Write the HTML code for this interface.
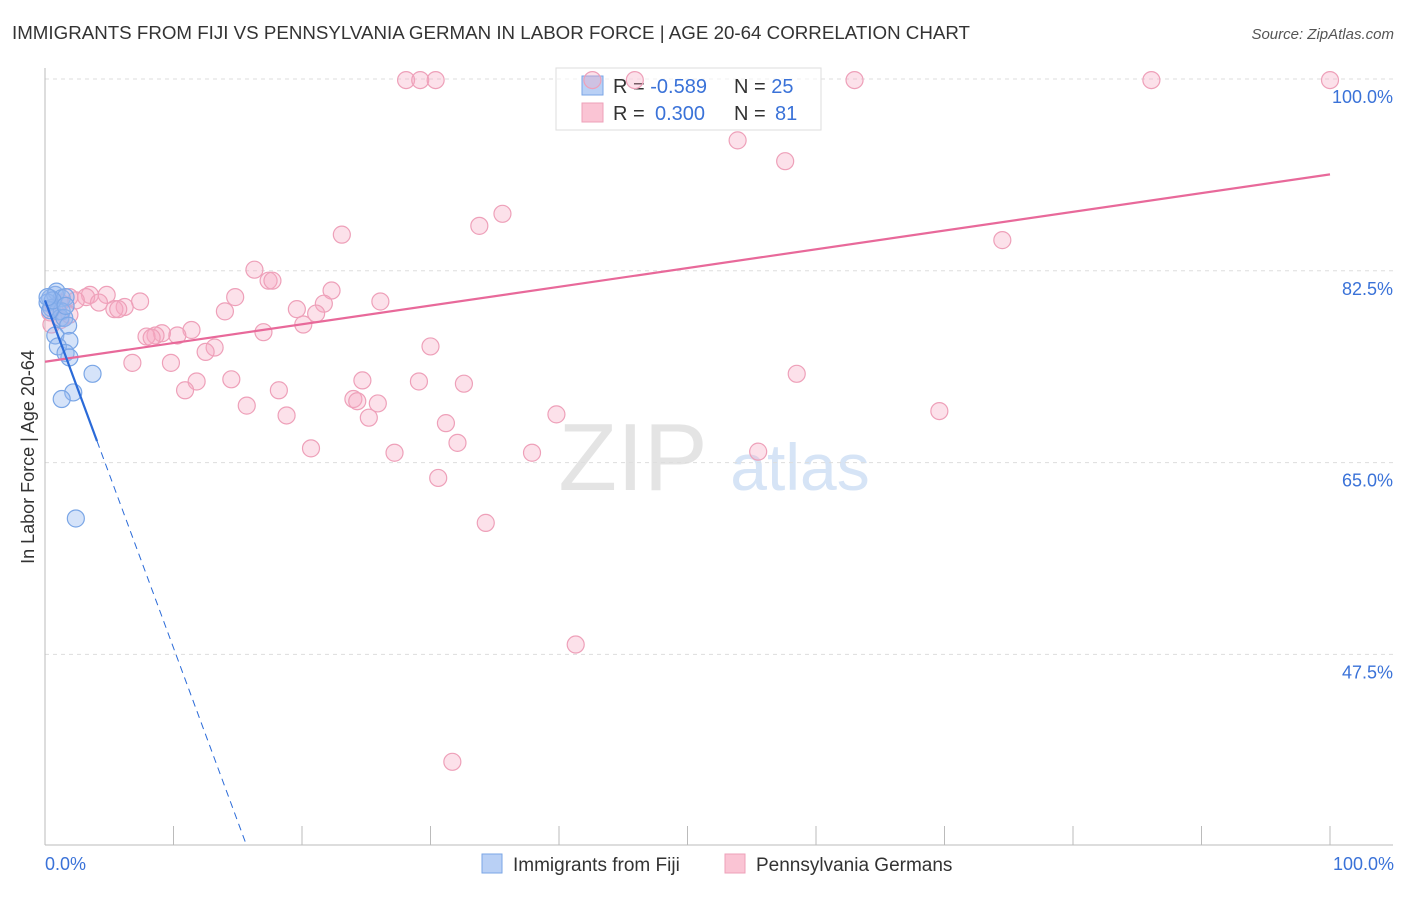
<!DOCTYPE html>
<html><head><meta charset="utf-8"><style>
body{margin:0;background:#fff;font-family:"Liberation Sans",sans-serif}
svg text{font-family:"Liberation Sans",sans-serif}
</style></head><body>
<svg id="chart" width="1406" height="892" viewBox="0 0 1406 892">
<text x="12" y="39" font-size="18" fill="#333" textLength="958" lengthAdjust="spacingAndGlyphs">IMMIGRANTS FROM FIJI VS PENNSYLVANIA GERMAN IN LABOR FORCE | AGE 20-64 CORRELATION CHART</text>
<text x="1394" y="39" font-size="15" fill="#555" font-style="italic" text-anchor="end">Source: ZipAtlas.com</text>
<text x="633" y="490" font-size="96" fill="#e4e4e4" font-family="Liberation Serif" text-anchor="middle">ZIP</text>
<text x="800" y="490" font-size="66" fill="#d6e4f6" text-anchor="middle">atlas</text>
<g id="grid"></g><g id="axes"></g>
<g>
<rect x="556" y="68" width="265" height="62" fill="#fff" fill-opacity="0.6" stroke="#ddd"/>
<rect x="582" y="76" width="21" height="19" fill="#b9d0f5" stroke="#7aa6e6"/>
<rect x="582" y="103" width="21" height="19" fill="#fac4d4" stroke="#eea0b9"/>
<text x="613" y="93" font-size="20" fill="#333">R = <tspan fill="#3a72d8">-0.589</tspan></text>
<text x="734" y="93" font-size="20" fill="#333">N = <tspan fill="#3a72d8">25</tspan></text>
<text x="613" y="120" font-size="20" fill="#333">R = <tspan fill="#3a72d8" x="655">0.300</tspan></text>
<text x="734" y="120" font-size="20" fill="#333">N = <tspan fill="#3a72d8" x="775">81</tspan></text>
</g>
<g id="marks"></g>
<text transform="translate(34,457) rotate(-90)" font-size="18" fill="#333" text-anchor="middle">In Labor Force | Age 20-64</text>
<text x="45" y="870" font-size="18" fill="#3a72d8">0.0%</text>
<text x="1394" y="870" font-size="18" fill="#3a72d8" text-anchor="end">100.0%</text>
<g>
<rect x="482" y="854" width="20" height="19" fill="#b9d0f5" stroke="#7aa6e6"/>
<text x="513" y="871" font-size="19" fill="#333">Immigrants from Fiji</text>
<rect x="725" y="854" width="20" height="19" fill="#fac4d4" stroke="#eea0b9"/>
<text x="756" y="871" font-size="19" fill="#333">Pennsylvania Germans</text>
</g>
</svg>
<script>
const yTicks=[100,82.5,65,47.5];
const yTickLabels=["100.0%","82.5%","65.0%","47.5%"];
const xTicks=[0,10,20,30,40,50,60,70,80,90,100];
const pinkX=[28.1,29.2,30.4,42.6,45.9,63.0,86.1,100,53.9,57.6,35.6,33.8,23.1,74.5,16.3,17.4,17.7,22.3,14.8,26.1,21.7,19.6,21.1,14.0,20.1,17.0,7.4,6.2,5.4,5.7,4.8,3.5,3.2,2.4,4.2,1.9,1.2,0.4,0.5,11.4,9.1,8.6,7.9,10.3,8.3,13.2,12.5,30.0,6.8,9.8,24.7,29.1,32.6,14.5,11.8,10.9,18.2,58.5,24.0,24.3,25.9,15.7,39.8,18.8,25.2,69.6,31.2,32.1,20.7,27.2,37.9,55.5,30.6,34.3,41.3,31.7,1.9,1.2,0.7];
const pinkY=[99.9,99.9,99.9,99.9,99.9,99.9,99.9,99.9,94.4,92.5,87.7,86.6,85.8,85.3,82.6,81.6,81.6,80.7,80.1,79.7,79.5,79.0,78.6,78.8,77.6,76.9,79.7,79.2,79.0,79.0,80.3,80.3,80.1,79.8,79.6,80.1,79.6,78.7,77.6,77.1,76.8,76.6,76.5,76.6,76.4,75.5,75.1,75.6,74.1,74.1,72.5,72.4,72.2,72.6,72.4,71.6,71.6,73.1,70.8,70.6,70.4,70.2,69.4,69.3,69.1,69.7,68.6,66.8,66.3,65.9,65.9,66.0,63.6,59.5,48.4,37.7,78.5,78.0,79.2];
const blueX=[0.4,0.8,0.9,1.3,1.6,0.2,0.5,1.0,1.3,1.2,1.5,1.8,0.8,1.9,1.0,1.6,1.9,3.7,2.2,1.3,2.4,0.4,0.6,0.2,1.6];
const blueY=[80.0,80.3,80.6,80.0,80.1,79.6,79.1,78.8,78.8,78.2,78.2,77.5,76.6,76.1,75.6,75.0,74.6,73.1,71.4,70.8,59.9,78.9,79.8,80.1,79.3];
const pinkTrend=[74.2,91.3];
const blueTrend=[79.8,-3.17];
const X=v=>45+v*12.85, Y=v=>79+(100-v)*10.96;
const NS="http://www.w3.org/2000/svg";
function mk(p,t,a){const e=document.createElementNS(NS,t);for(const k in a)e.setAttribute(k,a[k]);p.appendChild(e);return e;}
const grid=document.getElementById('grid'),axes=document.getElementById('axes'),marks=document.getElementById('marks');
yTicks.forEach((t,i)=>{
 const l=mk(grid,'line',{x1:45,x2:1393,y1:Y(t),y2:Y(t),stroke:'#ddd','stroke-dasharray':'4,4'});
 
 
 const tx=mk(axes,'text',{x:1393,y:Y(t)+24,'font-size':18,fill:'#3a72d8','text-anchor':'end'});
 tx.textContent=yTickLabels[i];
 
 
});
const ax=mk(axes,'line',{x1:45,x2:45,y1:68,y2:845,stroke:'#bbb'});


const bx=mk(axes,'line',{x1:45,x2:1393,y1:845,y2:845,stroke:'#bbb'});


xTicks.forEach(t=>{
 const l=mk(axes,'line',{x1:X(t),x2:X(t),y1:826,y2:845,stroke:'#bbb'});
 
 
});
pinkX.forEach((v,i)=>{
 const c=mk(marks,'circle',{cx:X(v),cy:Y(pinkY[i]),r:8.5,fill:'rgba(246,170,196,0.35)',stroke:'#eea0b9','stroke-width':1.2});
 
 
});
blueX.forEach((v,i)=>{
 const c=mk(marks,'circle',{cx:X(v),cy:Y(blueY[i]),r:8.5,fill:'rgba(150,185,240,0.4)',stroke:'#7aa6e6','stroke-width':1.2});
 
 
});
const pl=mk(marks,'line',{x1:X(0),y1:Y(pinkTrend[0]),x2:X(100),y2:Y(pinkTrend[1]),stroke:'#e8699a','stroke-width':2.2});


const bf=x=>blueTrend[0]+blueTrend[1]*x;
const bl=mk(marks,'line',{x1:X(0),y1:Y(bf(0)),x2:X(4.05),y2:Y(bf(4.05)),stroke:'#2a6ad8','stroke-width':2.2});


const xe=(blueTrend[0]-30.1)/-blueTrend[1];
const bd=mk(marks,'line',{x1:X(4.05),y1:Y(bf(4.05)),x2:X(xe),y2:Y(bf(xe)),stroke:'#2a6ad8','stroke-width':1,'stroke-dasharray':'7,5'});


</script>
</body></html>
